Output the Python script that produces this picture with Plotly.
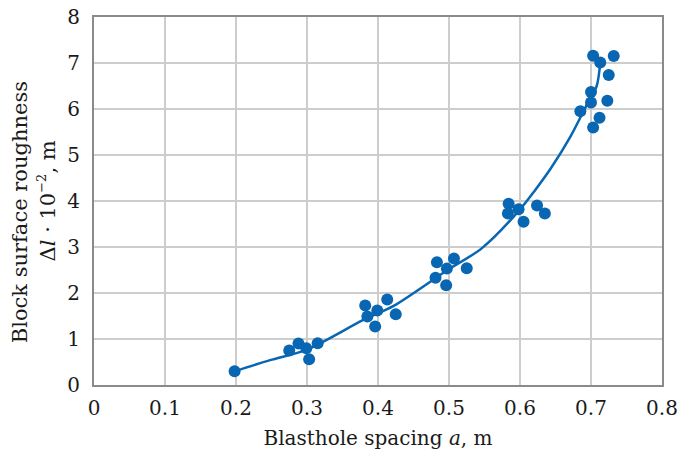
import plotly.graph_objects as go

# Measured points
spacing = [0.198, 0.275, 0.288, 0.299, 0.303, 0.315,
           0.382, 0.385, 0.399, 0.396, 0.413, 0.425,
           0.483, 0.481, 0.497, 0.496, 0.507, 0.525,
           0.584, 0.583, 0.598, 0.605, 0.624, 0.635,
           0.703, 0.713, 0.732, 0.725, 0.700, 0.700, 0.723, 0.685, 0.712, 0.703]
roughness = [0.30, 0.75, 0.90, 0.80, 0.56, 0.91,
             1.73, 1.49, 1.62, 1.27, 1.86, 1.54,
             2.67, 2.33, 2.53, 2.17, 2.75, 2.54,
             3.94, 3.73, 3.82, 3.55, 3.90, 3.73,
             7.16, 7.01, 7.15, 6.74, 6.37, 6.14, 6.18, 5.95, 5.81, 5.60]

# Fitted curve
fit_x = [0.198, 0.248, 0.300, 0.380, 0.422, 0.497, 0.546, 0.598, 0.621, 0.643, 0.671, 0.696, 0.708, 0.713]
fit_y = [0.30, 0.54, 0.77, 1.42, 1.72, 2.49, 2.97, 3.78, 4.23, 4.70, 5.40, 6.15, 6.50, 7.00]

x_ticks = [0, 0.1, 0.2, 0.3, 0.4, 0.5, 0.6, 0.7, 0.8]
x_tick_labels = ["0", "0.1", "0.2", "0.3", "0.4", "0.5", "0.6", "0.7", "0.8"]
y_ticks = [0, 1, 2, 3, 4, 5, 6, 7, 8]
y_title_lines = ["Block surface roughness",
                 "Δ<i>l</i> · 10<sup><span style='font-size:13px'>−2</span></sup>, m"]

blue = "#0866b2"
font = "DejaVu Serif"
txt = "#1a1a1a"

fig = go.Figure()
fig.add_trace(go.Scatter(x=fit_x, y=fit_y, mode="lines",
                         line=dict(color=blue, width=2.5, shape="spline", smoothing=0.8),
                         showlegend=False, hoverinfo="skip"))
fig.add_trace(go.Scatter(x=spacing, y=roughness, mode="markers",
                         marker=dict(color=blue, size=12),
                         showlegend=False))

axis_common = dict(showline=True, mirror=True, linecolor="#8a8a8a", linewidth=2,
                   showgrid=True, gridcolor="#cdcdcd", gridwidth=1.5,
                   zeroline=False, ticks="", automargin=False,
                   tickfont=dict(family=font, size=20, color=txt))

fig.update_xaxes(range=[0, 0.8], tickvals=x_ticks, ticktext=x_tick_labels,
                 ticklabelstandoff=4,
                 title=dict(text="Blasthole spacing <i>a</i>, m",
                            font=dict(family=font, size=20, color=txt), standoff=12),
                 **axis_common)
fig.update_yaxes(range=[0, 8], tickvals=y_ticks, ticklabelstandoff=8,
                 **axis_common)

# Two-line y-axis title, placed line by line
for text, px, py in [(y_title_lines[0], -0.130, 0.47), (y_title_lines[1], -0.082, 0.50)]:
    fig.add_annotation(text=text, xref="paper", yref="paper", x=px, y=py,
                       xanchor="center", yanchor="middle", textangle=-90,
                       showarrow=False, font=dict(family=font, size=21, color=txt))

fig.update_layout(width=692, height=455,
                  margin=dict(l=94, r=30, t=17, b=70),
                  paper_bgcolor="white", plot_bgcolor="white",
                  font=dict(family=font))

fig.write_html("out.html")
